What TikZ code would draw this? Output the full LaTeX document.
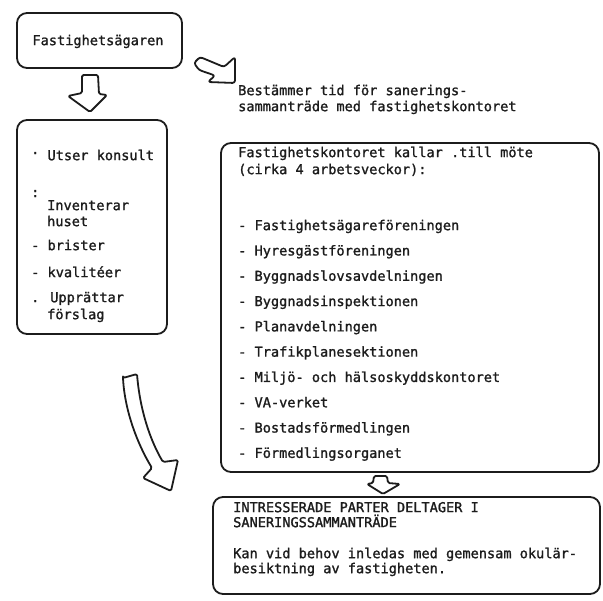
\documentclass[tikz,border=0pt]{standalone}
\usepackage{fontspec}
\newfontfamily\tw[FakeBold=1.4]{DejaVu Sans Mono}
\definecolor{ink}{RGB}{28,28,28}
\begin{document}
\begin{tikzpicture}[x=1pt,y=-1pt,
  frame/.style={draw=ink, line width=1.8pt, rounded corners=10pt, inner sep=0pt},
  txt/.style={anchor=mid west, inner sep=0pt, text=ink, font=\tw\fontsize{13.6}{16}\selectfont},
  blockarrow/.style={draw=ink, line width=1.8pt, line join=round, rounded corners=1.5pt}]
\useasboundingbox (0,0) rectangle (603,601);

% ---- frames ----
\node[frame, minimum width=165pt, minimum height=55pt] (owner) at (99.5,40.5) {};
\node[frame, minimum width=150pt, minimum height=214pt] (tasks) at (92,227) {};
\node[frame, minimum width=378pt, minimum height=329pt] (office) at (410,307.5) {};
\node[frame, minimum width=387pt, minimum height=97pt] (parties) at (406.5,545.5) {};

% ---- owner ----
\node[txt, anchor=mid] (ownertext) at (98,43) {Fastighetsägaren};

% ---- arrow owner -> tasks ----
\draw[blockarrow] (82,75) -- (98,75) -- (99,94) -- (107,95) -- (90,112) -- (68,96) -- (82,93) -- cycle;

% ---- bent arrow owner -> note ----
\draw[blockarrow, rounded corners=2.5pt] (200,57) -- (224,67) -- (235,57) -- (235,83) -- (208,82)
  -- (215,75.5) -- (199,70) -- (194,63) -- cycle;

% ---- note ----
\node[txt] (note1) at (238,93) {Bestämmer tid för sanerings-};
\node[txt] (note2) at (238,109) {sammanträde med fastighetskontoret};

% ---- tasks ----
\node[txt] (t1) at (31,158) {\raisebox{0.45em}{.} Utser konsult};
\node[txt] (t2a) at (31,195) {:};
\node[txt] (t2) at (47,208) {Inventerar};
\node[txt] (t3) at (47,224) {huset};
\node[txt] (t4) at (31,248) {- brister};
\node[txt] (t5) at (31,275) {- kvalitéer};
\node[txt] (t6) at (31,300) {. Upprättar};
\node[txt] (t7) at (47,317) {förslag};

% ---- office ----
\node[txt] (o1) at (238,155) {Fastighetskontoret kallar .till möte};
\node[txt] (o2) at (238,172) {(cirka 4 arbetsveckor):};
\foreach \lab [count=\i from 0] in {Fastighetsägareföreningen, Hyresgästföreningen,
    Byggnadslovsavdelningen, Byggnadsinspektionen, Planavdelningen,
    Trafikplanesektionen, Miljö- och hälsoskyddskontoret, VA-verket,
    Bostadsförmedlingen, Förmedlingsorganet}
  \node[txt] (item\i) at (238,{228+25.3*\i}) {- \lab};

% ---- arrow office -> parties ----
\draw[blockarrow] (374,476) -- (387,476) -- (388,483) -- (400,484) -- (383,494) -- (367,484) -- (373,483) -- cycle;

% ---- long arrow tasks -> parties ----
\draw[blockarrow] (123,378) -- (137,374)
  .. controls (140,410) and (150,440) .. (163,462)
  -- (178,460) -- (171,491) -- (143,478) -- (152,468)
  .. controls (138,445) and (125,412) .. (123,378) -- cycle;

% ---- parties ----
\node[txt] (p1) at (233,510) {INTRESSERADE PARTER DELTAGER I};
\node[txt] (p2) at (233,525) {SANERINGSSAMMANTRÄDE};
\node[txt] (p3) at (233,556) {Kan vid behov inledas med gemensam okulär-};
\node[txt] (p4) at (233,571) {besiktning av fastigheten.};
\end{tikzpicture}
\end{document}
